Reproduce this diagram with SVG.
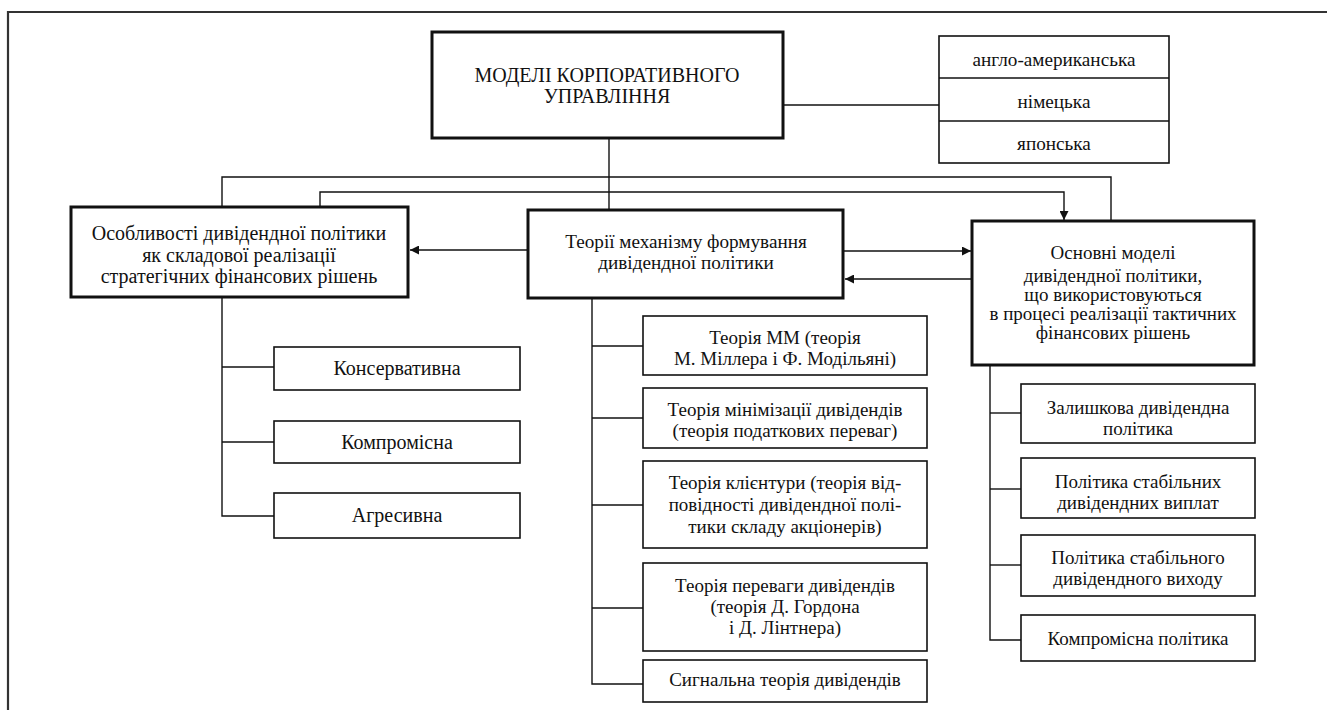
<svg xmlns="http://www.w3.org/2000/svg" width="1327" height="710" viewBox="0 0 1327 710">
<style>
.bg{fill:#fff}
.thick{fill:#fff;stroke:#111;stroke-width:3}
.thin{fill:#fff;stroke:#111;stroke-width:1.6}
.ln{fill:none;stroke:#111;stroke-width:1.4}
.frame{fill:none;stroke:#333;stroke-width:2.2}
text{font-family:"Liberation Serif","Times New Roman",serif;fill:#111;text-anchor:middle}
.t17{font-size:19px}
.t18{font-size:19.2px}
.t19{font-size:20px}
.tl{font-size:20px}
.tk{font-size:20px}
</style>
<defs>
<marker id="ah" viewBox="0 0 10 10" refX="10" refY="5" markerWidth="9" markerHeight="9" markerUnits="userSpaceOnUse" orient="auto">
<path d="M0,0 L10,5 L0,10 Z" fill="#111"/>
</marker>
</defs>
<rect class="bg" x="0" y="0" width="1327" height="710"/>
<path class="frame" d="M8,710 V12 H1327"/>

<g id="connectors">
<line class="ln" x1="609" y1="138" x2="609" y2="210"/>
<line class="ln" x1="783" y1="105" x2="939" y2="105"/>
<polyline class="ln" points="222,207 222,177 1111,177 1111,220"/>
<polyline class="ln" points="320,207 320,192 1064,192 1064,220" marker-end="url(#ah)"/>
<line class="ln" x1="528" y1="250" x2="410" y2="250" marker-end="url(#ah)"/>
<line class="ln" x1="843" y1="251" x2="971" y2="251" marker-end="url(#ah)"/>
<line class="ln" x1="972" y1="279" x2="845" y2="279" marker-end="url(#ah)"/>
<polyline class="ln" points="222,297 222,516 274,516"/>
<line class="ln" x1="222" y1="367" x2="274" y2="367"/>
<line class="ln" x1="222" y1="442" x2="274" y2="442"/>
<polyline class="ln" points="592,298 592,684 643,684"/>
<line class="ln" x1="592" y1="346" x2="643" y2="346"/>
<line class="ln" x1="592" y1="418" x2="643" y2="418"/>
<line class="ln" x1="592" y1="505" x2="643" y2="505"/>
<line class="ln" x1="592" y1="608" x2="643" y2="608"/>
<polyline class="ln" points="990,365 990,640 1021,640"/>
<line class="ln" x1="990" y1="413" x2="1021" y2="413"/>
<line class="ln" x1="990" y1="489" x2="1021" y2="489"/>
<line class="ln" x1="990" y1="565" x2="1021" y2="565"/>
</g>

<g id="main">
<rect class="thick" x="432" y="32" width="351" height="106"/>
<text class="t19" x="607" y="82">МОДЕЛІ КОРПОРАТИВНОГО</text>
<text class="t19" x="607" y="103">УПРАВЛІННЯ</text>
</g>

<g id="models-list">
<rect class="thin" x="939" y="36" width="230" height="127"/>
<line class="ln" x1="939" y1="78" x2="1169" y2="78"/>
<line class="ln" x1="939" y1="121" x2="1169" y2="121"/>
<text class="t18" x="1054" y="66">англо-американська</text>
<text class="t18" x="1054" y="108">німецька</text>
<text class="t18" x="1054" y="150">японська</text>
</g>

<g id="left">
<rect class="thick" x="71" y="207" width="337" height="90"/>
<text class="tl" x="239" y="240">Особливості дивідендної політики</text>
<text class="tl" x="239" y="262">як складової реалізації</text>
<text class="tl" x="239" y="283">стратегічних фінансових рішень</text>
</g>

<g id="middle">
<rect class="thick" x="528" y="210" width="315" height="88"/>
<text class="t18" x="686" y="248">Теорії механізму формування</text>
<text class="t18" x="686" y="269">дивідендної політики</text>
</g>

<g id="right">
<rect class="thick" x="972" y="221" width="282" height="144"/>
<text class="t17" x="1113" y="259">Основні моделі</text>
<text class="t17" x="1113" y="282">дивідендної політики,</text>
<text class="t17" x="1113" y="301">що використовуються</text>
<text class="t17" x="1113" y="320">в процесі реалізації тактичних</text>
<text class="t17" x="1113" y="339">фінансових рішень</text>
</g>

<g id="l1"><rect class="thin" x="274" y="347" width="246" height="43"/><text class="tk" x="397" y="375">Консервативна</text></g>
<g id="l2"><rect class="thin" x="274" y="421" width="246" height="42"/><text class="tk" x="397" y="449">Компромісна</text></g>
<g id="l3"><rect class="thin" x="274" y="493" width="246" height="45"/><text class="tk" x="397" y="522">Агресивна</text></g>

<g id="m1"><rect class="thin" x="643" y="316" width="284" height="59"/>
<text class="t17" x="785" y="344">Теорія ММ (теорія</text>
<text class="t17" x="785" y="365">М. Міллера і Ф. Модільяні)</text></g>
<g id="m2"><rect class="thin" x="643" y="388" width="284" height="60"/>
<text class="t17" x="785" y="416">Теорія мінімізації дивідендів</text>
<text class="t17" x="785" y="437">(теорія податкових переваг)</text></g>
<g id="m3"><rect class="thin" x="643" y="461" width="284" height="87"/>
<text class="t17" x="785" y="489">Теорія клієнтури (теорія від-</text>
<text class="t17" x="785" y="511">повідності дивідендної полі-</text>
<text class="t17" x="785" y="533">тики складу акціонерів)</text></g>
<g id="m4"><rect class="thin" x="643" y="563" width="284" height="88"/>
<text class="t17" x="785" y="592">Теорія переваги дивідендів</text>
<text class="t17" x="785" y="613">(теорія Д. Гордона</text>
<text class="t17" x="785" y="634">і Д. Лінтнера)</text></g>
<g id="m5"><rect class="thin" x="643" y="660" width="284" height="42"/>
<text class="t17" x="785" y="686">Сигнальна теорія дивідендів</text></g>

<g id="r1"><rect class="thin" x="1021" y="384" width="234" height="59"/>
<text class="t17" x="1138" y="414">Залишкова дивідендна</text>
<text class="t17" x="1138" y="435">політика</text></g>
<g id="r2"><rect class="thin" x="1021" y="458" width="234" height="60"/>
<text class="t17" x="1138" y="488">Політика стабільних</text>
<text class="t17" x="1138" y="509">дивідендних виплат</text></g>
<g id="r3"><rect class="thin" x="1021" y="535" width="234" height="61"/>
<text class="t17" x="1138" y="564">Політика стабільного</text>
<text class="t17" x="1138" y="585">дивідендного виходу</text></g>
<g id="r4"><rect class="thin" x="1021" y="615" width="234" height="46"/>
<text class="t17" x="1138" y="645">Компромісна політика</text></g>
</svg>
